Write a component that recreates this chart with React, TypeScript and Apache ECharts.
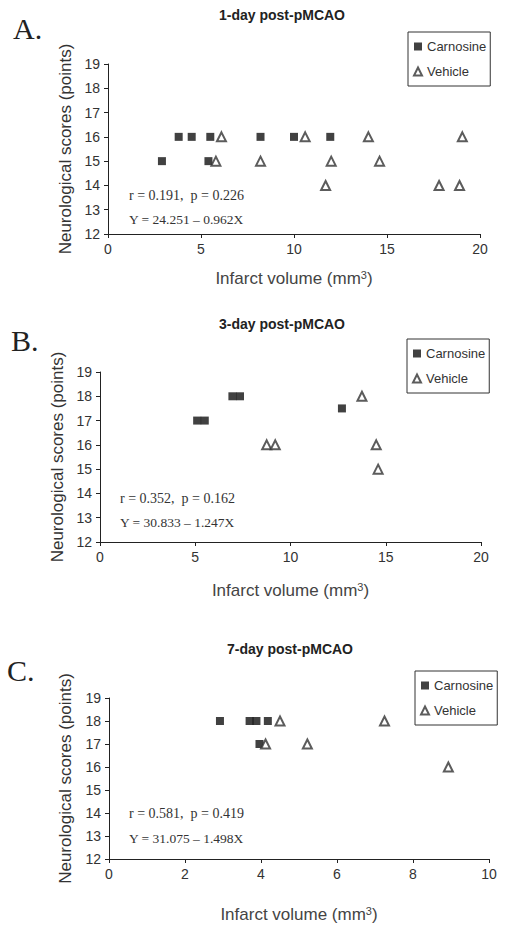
import React, { useEffect, useRef } from "react";
import * as echarts from "echarts";

// ---------- data ----------
const panelLetters = ["A.", "B.", "C."];
const panelTitles = ["1-day post-pMCAO", "3-day post-pMCAO", "7-day post-pMCAO"];
const seriesNames = ["Carnosine", "Vehicle"];
const xMaxes = [20, 20, 10];
const xIntervals = [5, 5, 2];
const yMin = 12;
const yMax = 19;
const xAxisTitle = "Infarct volume (mm";
const xAxisTitleSup = "3";
const yAxisTitle = "Neurological scores (points)";

const carnosineA = [[2.9, 15], [3.8, 16], [4.5, 16], [5.5, 16], [5.4, 15], [8.2, 16], [10.0, 16], [11.95, 16]];
const vehicleA = [[6.1, 16], [5.8, 15], [8.2, 15], [10.6, 16], [11.7, 14], [12.0, 15], [14.0, 16], [14.6, 15], [17.8, 14], [18.9, 14], [19.05, 16]];
const carnosineB = [[5.1, 17], [5.5, 17], [6.95, 18], [7.35, 18], [12.7, 17.5]];
const vehicleB = [[8.75, 16], [9.2, 16], [13.75, 18], [14.5, 16], [14.6, 15]];
const carnosineC = [[2.92, 18], [3.7, 18], [3.88, 18], [4.18, 18], [3.96, 17]];
const vehicleC = [[4.5, 18], [4.12, 17], [5.22, 17], [7.25, 18], [8.93, 16]];

const statsR = ["r = 0.191,  p = 0.226", "r = 0.352,  p = 0.162", "r = 0.581,  p = 0.419"];
const statsEq = ["Y = 24.251 \u2013 0.962X", "Y = 30.833 \u2013 1.247X", "Y = 31.075 \u2013 1.498X"];

const carnosineData = [carnosineA, carnosineB, carnosineC];
const vehicleData = [vehicleA, vehicleB, vehicleC];

// ---------- layout ----------
const grids = [
  { left: 108, top: 64, width: 372, height: 170 },
  { left: 100, top: 372, width: 381, height: 170 },
  { left: 109, top: 698, width: 380, height: 161 },
];
const titlePos = [[282, 15], [282, 324], [290, 649]];
const letterPos = [[13, 28], [11, 340], [7, 670]];
const legendPos = [[408, 32], [407, 339], [415, 671]];
const statsPos = [[129, 195, 219], [120, 498, 522], [129, 813, 838]];
const xNameGaps = [35, 39, 46];
const yNameGaps = [34, 34, 35];

const SANS = "Arial, 'Liberation Sans', sans-serif";
const SERIF = "'Times New Roman', 'Liberation Serif', serif";

export default function App() {
  const ref = useRef<HTMLDivElement>(null);

  useEffect(() => {
    if (!ref.current) return;
    const chart = echarts.init(ref.current, undefined, { renderer: "svg" });
    const idx = [0, 1, 2];

    const graphic: any[] = [];
    idx.forEach((i) => {
      graphic.push({
        type: "text",
        x: titlePos[i][0],
        y: titlePos[i][1],
        style: {
          text: panelTitles[i],
          font: `bold 14px ${SANS}`,
          fill: "#222",
          align: "center",
          verticalAlign: "middle",
        },
      });
      graphic.push({
        type: "text",
        x: letterPos[i][0],
        y: letterPos[i][1],
        style: {
          text: panelLetters[i],
          font: `30px ${SERIF}`,
          fill: "#222",
          align: "left",
          verticalAlign: "middle",
        },
      });
      graphic.push({
        type: "text",
        x: statsPos[i][0],
        y: statsPos[i][1],
        style: {
          text: statsR[i],
          font: `14px ${SERIF}`,
          fill: "#333",
          align: "left",
          verticalAlign: "middle",
        },
      });
      graphic.push({
        type: "text",
        x: statsPos[i][0],
        y: statsPos[i][2],
        style: {
          text: statsEq[i],
          font: `13.5px ${SERIF}`,
          fill: "#333",
          align: "left",
          verticalAlign: "middle",
        },
      });
    });

    const series: any[] = [];
    idx.forEach((i) => {
      series.push({
        name: seriesNames[0],
        type: "scatter",
        xAxisIndex: i,
        yAxisIndex: i,
        symbol: "rect",
        symbolSize: 8,
        itemStyle: { color: "#111" },
        data: carnosineData[i],
      });
      series.push({
        name: seriesNames[1],
        type: "scatter",
        xAxisIndex: i,
        yAxisIndex: i,
        symbol: "emptyTriangle",
        symbolSize: 9,
        itemStyle: { color: "#333", borderWidth: 1 },
        data: vehicleData[i],
      });
    });

    const option: any = {
      animation: false,
      backgroundColor: "#fff",
      grid: grids.map((g) => ({ ...g, containLabel: false })),
      xAxis: idx.map((i) => ({
        type: "value",
        gridIndex: i,
        min: 0,
        max: xMaxes[i],
        interval: xIntervals[i],
        axisLine: { show: true, lineStyle: { color: "#222", width: 1 } },
        axisTick: { show: true, length: 4, lineStyle: { color: "#222" } },
        axisLabel: { color: "#333", fontSize: 14, margin: 8, fontFamily: SANS },
        splitLine: { show: false },
        name: `{a|${xAxisTitle}}{s|${xAxisTitleSup}}{a|)}`,
        nameLocation: "middle",
        nameGap: xNameGaps[i],
        nameTextStyle: {
          rich: {
            a: { fontSize: 17, color: "#444", fontFamily: SANS, lineHeight: 19 },
            s: { fontSize: 11, color: "#444", fontFamily: SANS, verticalAlign: "top", lineHeight: 12 },
          },
        },
      })),
      yAxis: idx.map((i) => ({
        type: "value",
        gridIndex: i,
        min: yMin,
        max: yMax,
        interval: 1,
        axisLine: { show: true, lineStyle: { color: "#222", width: 1 } },
        axisTick: { show: true, length: 4, lineStyle: { color: "#222" } },
        axisLabel: { color: "#333", fontSize: 14, margin: 8, fontFamily: SANS },
        splitLine: { show: false },
        name: yAxisTitle,
        nameLocation: "middle",
        nameGap: yNameGaps[i],
        nameTextStyle: { fontSize: 17, color: "#333", fontFamily: SANS },
      })),
      legend: idx.map((i) => ({
        orient: "vertical",
        left: legendPos[i][0],
        top: legendPos[i][1],
        data: seriesNames,
        borderColor: "#333",
        borderWidth: 1,
        borderRadius: 0,
        padding: [8, 4, 8, 5],
        itemWidth: 8,
        itemHeight: 8,
        itemGap: 12,
        selectedMode: false,
        textStyle: { fontSize: 13, color: "#333", fontFamily: SANS },
      })),
      graphic,
      series,
    };

    chart.setOption(option);
    return () => chart.dispose();
  }, []);

  return (
    <div
      ref={ref}
      style={{ position: "absolute", left: 0, top: 0, width: 507, height: 934 }}
    />
  );
}
